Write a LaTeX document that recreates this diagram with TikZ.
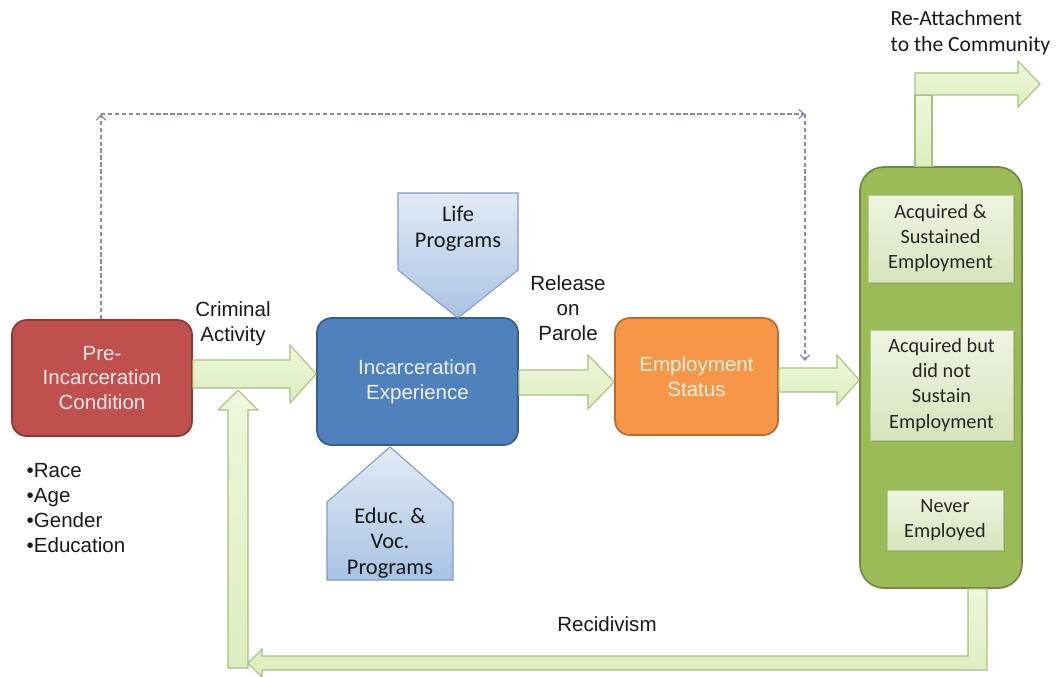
\documentclass[tikz,border=0pt]{standalone}
\usepackage{fontspec}
\setmainfont{Liberation Sans}
\newfontfamily\calib{Carlito}
\usetikzlibrary{arrows.meta,calc,shadows}

\definecolor{preRed}{HTML}{C0504D}
\definecolor{preRedEdge}{HTML}{8C3836}
\definecolor{incBlue}{HTML}{4F81BD}
\definecolor{incBlueEdge}{HTML}{385D8A}
\definecolor{empOrange}{HTML}{F79646}
\definecolor{empOrangeEdge}{HTML}{B66D31}
\definecolor{outGreen}{HTML}{9BBB59}
\definecolor{outGreenEdge}{HTML}{71893F}
\definecolor{innerTop}{HTML}{EEF4E2}
\definecolor{innerBot}{HTML}{D7E4BD}
\definecolor{innerEdge}{HTML}{B7CC8E}
\definecolor{arrowTop}{HTML}{EEF7DA}
\definecolor{arrowBot}{HTML}{DDEDBF}
\definecolor{arrowEdge}{HTML}{A7C07C}
\definecolor{progTop}{HTML}{E2EAF5}
\definecolor{progBot}{HTML}{A9C3E4}
\definecolor{progEdge}{HTML}{7E9BC4}
\definecolor{dashGray}{HTML}{8A8BA2}

\newcommand\arialtext{\fontsize{15.4}{18.6}\selectfont}
\newcommand\calibtext{\calib\fontsize{15.2}{18.8}\selectfont}
\newcommand\proglabeltext{\calib\fontsize{16.8}{19.2}\selectfont}

\tikzset{
  box/.style={draw, line width=1.3pt, rounded corners=11pt, inner sep=0pt,
    align=center, font=\arialtext},
  innerbox/.style={draw=innerEdge, line width=0.6pt, top color=innerTop,
    bottom color=innerBot, inner sep=0pt, align=center, font=\calibtext,
    text=black!85, drop shadow={shadow xshift=1.5pt, shadow yshift=-1.5pt, opacity=0.35}},
  blockarrow/.style={top color=arrowTop, bottom color=arrowBot, draw=arrowEdge,
    line width=0.8pt, line join=miter},
  program/.style={draw=progEdge, line width=0.8pt, top color=progTop, bottom color=progBot},
  label/.style={font=\arialtext, align=center, text=black!90},
  plabel/.style={font=\proglabeltext, align=center, text=black!90},
  feedback/.style={draw=dashGray, line width=0.9pt, dash pattern=on 3.2pt off 2pt,
    -{Straight Barb[length=4pt,width=7pt]}}
}

\begin{document}
\begin{tikzpicture}[x=0.75pt,y=-0.75pt]
\useasboundingbox (0,0) rectangle (1057,676);

% ---- main stage boxes ----
\node[box, fill=preRed, draw=preRedEdge, text=red!8,
  minimum width=135pt, minimum height=87pt] (pre) at (102,378)
  {Pre-\\Incarceration\\Condition};
\node[box, fill=incBlue, draw=incBlueEdge, text=blue!6,
  minimum width=150.75pt, minimum height=95.25pt] (inc) at (417.5,381.5)
  {Incarceration\\Experience};
\node[box, fill=empOrange, draw=empOrangeEdge, text=orange!10,
  minimum width=122.25pt, minimum height=87.75pt] (emp) at (696.5,376.5)
  {Employment\\Status};

% ---- outcome column ----
\node[draw=outGreenEdge, fill=outGreen, line width=1.3pt, rounded corners=18pt,
  minimum width=121.5pt, minimum height=315.75pt, inner sep=0pt] (out) at (941,377.5) {};
\node[innerbox, minimum width=108.75pt, minimum height=65.25pt] (sus) at (940.5,238.5)
  {Acquired \&\\Sustained\\Employment};
\node[innerbox, minimum width=107.25pt, minimum height=82.5pt] (nosus) at (941.5,385)
  {Acquired but\\did not\\Sustain\\Employment};
\node[innerbox, minimum width=87pt, minimum height=45pt] (never) at (945,520)
  {Never\\Employed};

% ---- program inputs ----
\path[program] (398,193) -- (518,193) -- (518,270) -- (458,318) -- (398,270) -- cycle;
\node[plabel] (life) at (458,229) {Life\\Programs};
\path[program] (390,447) -- (453,502) -- (453,580) -- (327,580) -- (327,502) -- cycle;
\node[plabel] (educ) at (390,543) {Educ. \&\\Voc.\\Programs};

% ---- block arrows between stages ----
\path[blockarrow] (pre.east |- 0,360) -- (290,360) -- (290,345) -- (inc.west |- 0,374)
  -- (290,403) -- (290,388) -- (pre.east |- 0,388) -- cycle;
\path[blockarrow] (inc.east |- 0,370) -- (588,370) -- (588,355) -- (emp.west |- 0,382)
  -- (588,409) -- (588,395) -- (inc.east |- 0,395) -- cycle;
\path[blockarrow] (emp.east |- 0,368) -- (837,368) -- (837,355) -- (out.west |- 0,380)
  -- (837,405) -- (837,392) -- (emp.east |- 0,392) -- cycle;

% re-attachment exit
\path[blockarrow] (915,95) rectangle (932,0 |- out.north);
\path[blockarrow] (915,73) -- (1018,73) -- (1018,61) -- (1040,84) -- (1018,107)
  -- (1018,95) -- (915,95) -- cycle;

% recidivism loop
\path[blockarrow] (968,0 |- out.south) -- (987,0 |- out.south) -- (987,670) -- (262,670)
  -- (262,677) -- (248,663) -- (262,649) -- (262,656) -- (968,656) -- cycle;
\path[blockarrow] (228,668) -- (228,410) -- (218,410) -- (238,390) -- (258,410)
  -- (248,410) -- (248,668) -- cycle;

% ---- dashed feedback path ----
\coordinate (fbA) at (101,114);
\coordinate (fbB) at (805,114);
\coordinate (fbC) at (805,361);
\draw[feedback] (pre.north -| fbA) -- (fbA);
\draw[feedback] (fbA) -- (fbB);
\draw[feedback] (fbB) -- (fbC);

% ---- labels ----
\node[label] (crim) at (233,324) {Criminal\\Activity};
\node[label] (parole) at (568,308) {Release\\on\\Parole};
\node[label] (recid) at (607,624) {Recidivism};
\node[label, align=left, anchor=north west] (traits) at (22,459)
  {•Race\\•Age\\•Gender\\•Education};
\node[font=\calib\fontsize{16.2}{19.5}\selectfont, align=left, anchor=north west,
  text=black!90] (reattach) at (886,6) {Re-Attachment\\to the Community};
\end{tikzpicture}
\end{document}
